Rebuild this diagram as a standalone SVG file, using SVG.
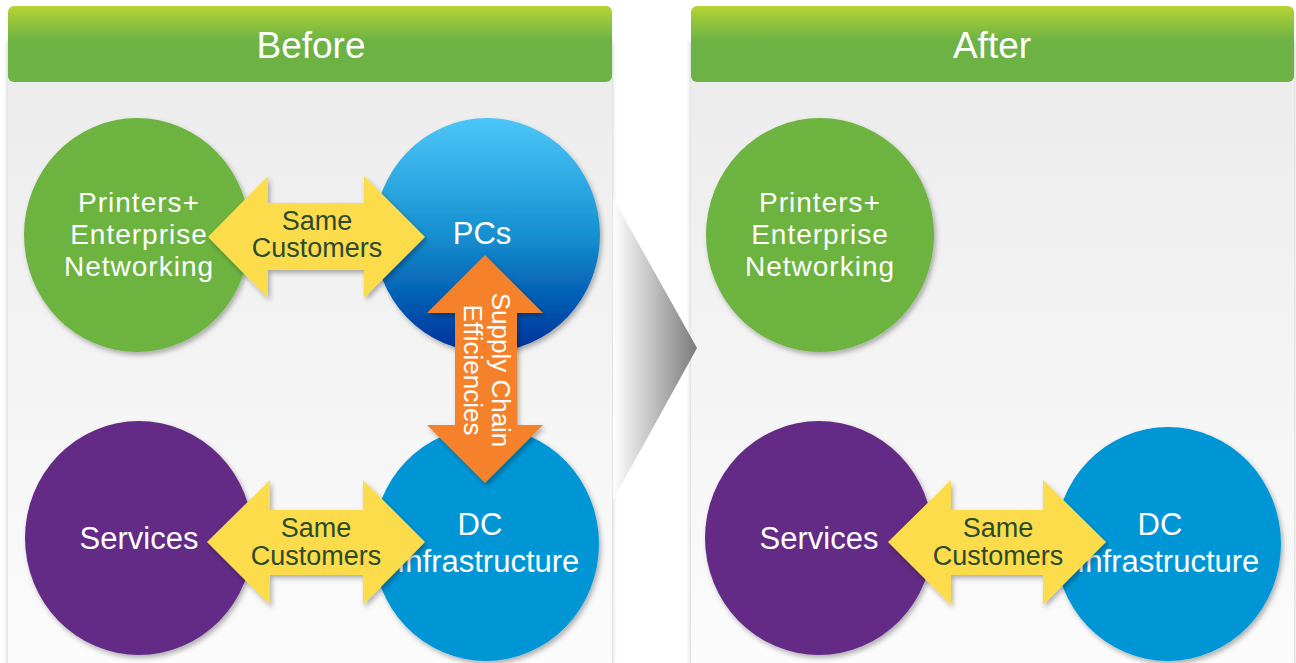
<svg xmlns="http://www.w3.org/2000/svg" width="1296" height="663" viewBox="0 0 1296 663">
  <defs>
    <linearGradient id="hdr" x1="0" y1="0" x2="0" y2="1">
      <stop offset="0" stop-color="#b6d433"/>
      <stop offset="0.45" stop-color="#6db344"/>
      <stop offset="1" stop-color="#6cb244"/>
    </linearGradient>
    <linearGradient id="body" x1="0" y1="0" x2="0" y2="1">
      <stop offset="0" stop-color="#ebebeb"/>
      <stop offset="1" stop-color="#fcfcfc"/>
    </linearGradient>
    <linearGradient id="pcs" x1="0" y1="0" x2="0" y2="1">
      <stop offset="0" stop-color="#4cc5f8"/>
      <stop offset="0.5" stop-color="#1690d0"/>
      <stop offset="0.8" stop-color="#0058b0"/>
      <stop offset="1" stop-color="#00309a"/>
    </linearGradient>
    <linearGradient id="chev" x1="0" y1="0" x2="1" y2="0">
      <stop offset="0" stop-color="#ffffff"/>
      <stop offset="1" stop-color="#7a7a7a"/>
    </linearGradient>
    <filter id="sh" x="-10%" y="-10%" width="120%" height="120%">
      <feDropShadow dx="2" dy="3" stdDeviation="2.5" flood-color="#000" flood-opacity="0.3"/>
    </filter>
    <filter id="psh" x="-5%" y="-5%" width="110%" height="110%">
      <feDropShadow dx="0" dy="1" stdDeviation="2.5" flood-color="#000" flood-opacity="0.25"/>
    </filter>
  </defs>
  <style>
    text { font-family: "Liberation Sans", Arial, sans-serif; }
    .hd { fill: #ffffff; font-size: 37px; text-anchor: middle; }
    .lbl { fill: #ffffff; font-size: 31px; text-anchor: middle; }
    .ml { fill: #ffffff; font-size: 28px; text-anchor: middle; letter-spacing: 1px; }
    .yl { fill: #fddc4c; filter: url(#sh); }
    .yt { fill: #2b4a2e; font-size: 27px; text-anchor: middle; }
    .or { fill: #f5822a; filter: url(#sh); }
    .ot { fill: #ffffff; font-size: 26px; text-anchor: middle; }
    .circ { filter: url(#sh); }
  </style>

  <rect width="1296" height="663" fill="#ffffff"/>

  <!-- panels -->
  <g id="panel-before">
    <rect x="8" y="40" width="604" height="640" fill="url(#body)" filter="url(#psh)"/>
    <rect x="8" y="6" width="604" height="76" rx="6" fill="url(#hdr)"/>
    <text class="hd" x="311" y="58">Before</text>
  </g>
  <g id="panel-after">
    <rect x="691" y="40" width="603" height="640" fill="url(#body)" filter="url(#psh)"/>
    <rect x="691" y="6" width="603" height="76" rx="6" fill="url(#hdr)"/>
    <text class="hd" x="992" y="58">After</text>
  </g>

  <!-- transition chevron -->
  <g id="chevron">
    <polygon points="613,198 697,348 613,500" fill="url(#chev)"/>
  </g>

  <!-- Before nodes -->
  <g id="b-printers">
    <ellipse class="circ" cx="137" cy="235" rx="113" ry="117" fill="#6cb33f"/>
    <text class="ml" x="139" y="212">Printers+</text>
    <text class="ml" x="139" y="244">Enterprise</text>
    <text class="ml" x="139" y="276">Networking</text>
  </g>
  <g id="b-pcs">
    <ellipse class="circ" cx="487" cy="235" rx="113" ry="117" fill="url(#pcs)"/>
    <text class="lbl" x="482" y="244">PCs</text>
  </g>
  <g id="b-services">
    <ellipse class="circ" cx="139" cy="538" rx="114" ry="117" fill="#642c86"/>
    <text class="lbl" x="139" y="549">Services</text>
  </g>
  <g id="b-dc">
    <ellipse class="circ" cx="486" cy="544" rx="113" ry="117" fill="#0096d6"/>
    <text class="lbl" x="480" y="535">DC</text>
    <text class="lbl" x="488" y="572">Infrastructure</text>
  </g>

  <!-- After nodes -->
  <g id="a-printers">
    <ellipse class="circ" cx="820" cy="235" rx="114" ry="117" fill="#6cb33f"/>
    <text class="ml" x="820" y="212">Printers+</text>
    <text class="ml" x="820" y="244">Enterprise</text>
    <text class="ml" x="820" y="276">Networking</text>
  </g>
  <g id="a-services">
    <ellipse class="circ" cx="819" cy="538" rx="114" ry="117" fill="#642c86"/>
    <text class="lbl" x="819" y="549">Services</text>
  </g>
  <g id="a-dc">
    <ellipse class="circ" cx="1168" cy="544" rx="113" ry="117" fill="#0096d6"/>
    <text class="lbl" x="1160" y="535">DC</text>
    <text class="lbl" x="1168" y="572">Infrastructure</text>
  </g>

  <!-- connectors -->
  <g id="connectors">
    <path class="yl" d="M208,237 L268,176 L268,203 L364,203 L364,176 L425,237 L364,298 L364,270 L268,270 L268,298 Z"/>
    <text class="yt" x="317" y="230">Same</text>
    <text class="yt" x="317" y="257">Customers</text>

    <path class="yl" d="M207,542 L270,480 L270,510 L363,510 L363,480 L425,542 L363,605 L363,575 L270,575 L270,605 Z"/>
    <text class="yt" x="316" y="537">Same</text>
    <text class="yt" x="316" y="565">Customers</text>

    <path class="yl" d="M888,542 L951,480 L951,510 L1043,510 L1043,480 L1106,542 L1043,605 L1043,575 L951,575 L951,605 Z"/>
    <text class="yt" x="998" y="537">Same</text>
    <text class="yt" x="998" y="565">Customers</text>

    <path class="or" d="M485,255 L543,313 L517,313 L517,425 L543,425 L485,483 L427,425 L455,425 L455,313 L427,313 Z"/>
    <text class="ot" transform="translate(492,370) rotate(90)" x="0" y="0">Supply Chain</text>
    <text class="ot" transform="translate(464,370) rotate(90)" x="0" y="0">Efficiencies</text>
  </g>
</svg>
